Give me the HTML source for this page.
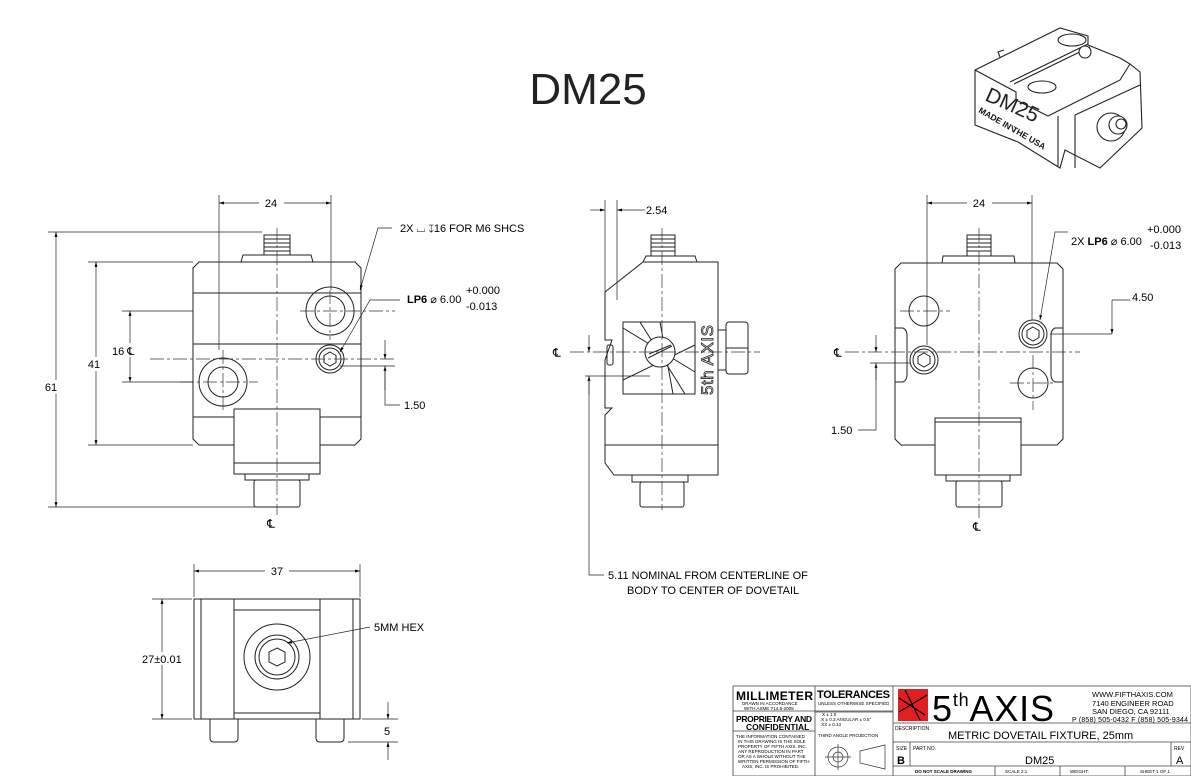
<!DOCTYPE html>
<html><head><meta charset="utf-8"><style>
html,body{margin:0;padding:0;background:#fff;}
svg{display:block;font-family:"Liberation Sans",sans-serif;}
</style></head><body>
<svg width="1191" height="776" viewBox="0 0 1191 776" xmlns="http://www.w3.org/2000/svg">
<defs>
<marker id="a" viewBox="0 0 10 10" refX="10" refY="5" markerWidth="7" markerHeight="7" orient="auto-start-reverse"><path d="M0,2 L10,5 L0,8z" fill="#000"/></marker>
</defs>
<rect width="1191" height="776" fill="#fff"/>
<text x="588" y="104" font-size="44" text-anchor="middle" fill="#222">DM25</text>

<!-- ISO view -->
<g stroke="#222" stroke-width="1.1" fill="#fff">
<path d="M975,70 L1060,28 L1088,36 L1088,45 L1120,58 L1130,64 L1140,72 L1142,128 L1100,168 L1065,150 L1060,168 L1018,142 L975,125 Z"/>
<path d="M975,70 L1016,92 L1016,100 L1048,116 L1088,96 L1120,80 L1130,64" fill="none"/>
<path d="M1010,82 L1088,44 M1014,84 L1090,47" fill="none"/>
<path d="M1058,116 L1058,166 M1075,115 L1075,168 M1075,115 L1140,85" fill="none"/>
<ellipse cx="1072" cy="40" rx="14" ry="6"/>
<ellipse cx="1042" cy="87" rx="14" ry="6"/>
<circle cx="1085" cy="52" r="6"/>
<circle cx="1111" cy="127" r="14"/><circle cx="1118" cy="125" r="9"/><circle cx="1121" cy="124" r="5"/>
<path d="M1000,57 L998,52 L1004,50 M1012,125 L1013,132"/>
</g>
<text x="984" y="100" font-size="21" transform="rotate(24 984 100)" fill="#222">DM25</text>
<text x="978" y="112" font-size="8.5" font-weight="bold" transform="rotate(30 978 112)" fill="#111">MADE IN THE USA</text>

<g stroke="#222" stroke-width="1" fill="none">
<!-- FRONT VIEW -->
<path d="M199,262 L355,262 L361,268 L361,439 L355,445 L199,445 L193,439 L193,268 Z"/>
<path d="M193,293 H361 M193,344 H361 M193,417 H234 M320,417 H361"/>
<path d="M241,262 L243,255 L311,255 L313,262"/>
<rect x="264" y="235" width="26" height="20"/>
<path d="M264,239 H290 M264,243 H290 M264,247 H290 M264,251 H290"/>
<rect x="234" y="409" width="86" height="65" fill="#fff"/>
<path d="M234,463 H320"/>
<rect x="245" y="474" width="64" height="6"/>
<rect x="254" y="480" width="46" height="27" rx="2"/>
<circle cx="330" cy="311" r="24"/><circle cx="330" cy="311" r="15"/>
<circle cx="223" cy="382" r="24"/><circle cx="223" cy="382" r="15"/>
<circle cx="330" cy="359" r="14"/><circle cx="330" cy="359" r="11"/>
<path d="M330,352 L336,355.5 L336,362.5 L330,366 L324,362.5 L324,355.5 Z"/>
</g>
<g stroke="#333" stroke-width="0.7" fill="none" stroke-dasharray="14,3,3,3">
<path d="M277,228 V515 M300,311 H395 M180,382 H258 M223,350 V410 M330,290 V340 M150,359 H395"/>
</g>
<g stroke="#222" stroke-width="0.7" fill="none">
<path d="M219,195 V350 M331,195 V290"/>
<path d="M219,203 H331" marker-start="url(#a)" marker-end="url(#a)"/>
<path d="M48,232 H262 M48,507 H255"/>
<path d="M56,232 V507" marker-start="url(#a)" marker-end="url(#a)"/>
<path d="M88,262 H193 M88,445 H193"/>
<path d="M96,262 V445" marker-start="url(#a)" marker-end="url(#a)"/>
<path d="M122,311 H193 M122,382 H193"/>
<path d="M130,311 V382" marker-start="url(#a)" marker-end="url(#a)"/>
<path d="M360,290 L378,228 H392" marker-start="url(#a)"/>
<path d="M340,352 L370,300 H400" marker-start="url(#a)"/>
<path d="M340,366 H395 M385,340 V359" marker-end="url(#a)"/>
<path d="M385,390 V366" marker-end="url(#a)"/>
<path d="M385,366 V405 H400"/>
</g>
<rect x="259" y="197" width="25" height="12" fill="#fff"/>
<text x="271" y="207" font-size="11" text-anchor="middle">24</text>
<rect x="40" y="380" width="22" height="14" fill="#fff"/>
<text x="51" y="391" font-size="11" text-anchor="middle">61</text>
<rect x="84" y="357" width="22" height="14" fill="#fff"/>
<text x="94" y="368" font-size="11" text-anchor="middle">41</text>
<rect x="112" y="343" width="44" height="14" fill="#fff"/>
<text x="112" y="355" font-size="11">16 ℄</text>
<text x="400" y="232" font-size="11">2X ⌴ ↧16 FOR M6 SHCS</text>
<text x="407" y="303" font-size="11"><tspan font-weight="bold">LP6</tspan> ⌀ 6.00</text>
<text x="466" y="294" font-size="11">+0.000</text>
<text x="466" y="310" font-size="11">-0.013</text>
<text x="404" y="409" font-size="11">1.50</text>
<text x="271" y="528" font-size="12" text-anchor="middle">℄</text>

<!-- SIDE VIEW -->
<g stroke="#222" stroke-width="1" fill="none">
<path d="M643,262 L718,262 L718,445 L605,445 L605,415 L612,408 L605,408 L605,360 L612,340 L605,340 L605,292 Z"/>
<path d="M643,262 L646,256 L695,256 L697,262"/>
<rect x="651" y="235" width="24" height="21"/>
<path d="M651,239 H675 M651,243 H675 M651,247 H675 M651,251 H675"/>
<path d="M605,445 L605,463 L614,475 L718,475 L718,445"/>
<rect x="632" y="475" width="56" height="7"/>
<rect x="640" y="482" width="44" height="25" rx="2"/>
<rect x="623" y="322" width="72" height="72"/>
<path d="M623,328 L695,372 M640,322 L685,394 M623,380 L695,345 M660,322 L673,394"/>
<circle cx="660" cy="352" r="15" fill="#fff"/><path d="M648,358 L672,346 M649,354 L671,345"/>
<rect x="726" y="322" width="22" height="52" rx="3"/>
<path d="M718,330 H726 V370 H718 M726,348 H748"/>
<rect x="607" y="345" width="6" height="20" rx="2"/>
</g>
<text x="713" y="395" font-size="17" transform="rotate(-90 713 395)" fill="#fff" stroke="#222" stroke-width="0.8" textLength="70">5th AXIS</text>
<g stroke="#333" stroke-width="0.7" fill="none" stroke-dasharray="14,3,3,3">
<path d="M570,352 H760 M662,228 V510"/>
</g>
<g stroke="#222" stroke-width="0.7" fill="none">
<path d="M605,200 V292 M617,200 V300"/>
<path d="M590,210 H605" marker-end="url(#a)"/>
<path d="M640,210 H617" marker-end="url(#a)"/>
<path d="M640,210 H645"/>
<path d="M585,376 H650"/>
<path d="M589,335 V352" marker-end="url(#a)"/>
<path d="M589,395 V376" marker-end="url(#a)"/>
<path d="M589,376 V575 H604"/>
</g>
<text x="646" y="214" font-size="11">2.54</text>
<text x="553" y="357" font-size="12">℄</text>
<text x="608" y="579" font-size="11">5.11 NOMINAL FROM CENTERLINE OF</text>
<text x="627" y="594" font-size="11">BODY TO CENTER OF DOVETAIL</text>

<!-- RIGHT VIEW -->
<g stroke="#222" stroke-width="1" fill="none">
<path d="M901,263 L1057,263 L1063,269 L1063,439 L1057,445 L901,445 L895,439 L895,269 Z"/>
<path d="M942,263 L943,256 L1014,256 L1015,263"/>
<rect x="967" y="235" width="24" height="21"/>
<path d="M967,239 H991 M967,243 H991 M967,247 H991 M967,251 H991"/>
<path d="M895,328 L903,328 Q907,330 907,335 L907,375 Q907,380 903,382 L895,382"/>
<path d="M1063,328 L1055,328 Q1051,330 1051,335 L1051,375 Q1051,380 1055,382 L1063,382"/>
<rect x="935" y="418" width="86" height="57" fill="#fff"/>
<path d="M935,422 H1021"/>
<rect x="946" y="475" width="64" height="6"/>
<rect x="956" y="481" width="46" height="26" rx="2"/>
<circle cx="924" cy="311" r="15"/>
<circle cx="924" cy="360" r="14"/><circle cx="924" cy="360" r="11"/>
<path d="M924,353 L930,356.5 L930,363.5 L924,367 L918,363.5 L918,356.5 Z"/>
<circle cx="1033" cy="334" r="14"/><circle cx="1033" cy="334" r="11"/>
<path d="M1033,327 L1039,330.5 L1039,337.5 L1033,341 L1027,337.5 L1027,330.5 Z"/>
<circle cx="1033" cy="383" r="15"/>
</g>
<g stroke="#333" stroke-width="0.7" fill="none" stroke-dasharray="14,3,3,3">
<path d="M979,228 V520 M845,352 H1080 M900,311 H950 M1010,383 H1055 M1033,355 V410"/>
</g>
<g stroke="#222" stroke-width="0.7" fill="none">
<path d="M927,195 V345 M1032,195 V320"/>
<path d="M927,203 H1032" marker-start="url(#a)" marker-end="url(#a)"/>
<path d="M1040,320 L1055,232 H1068" marker-start="url(#a)"/>
<path d="M1050,334 H1112 M1112,300 H1130"/>
<path d="M1112,300 V334" marker-end="url(#a)"/>
<path d="M870,363 H910"/>
<path d="M876,335 V352" marker-end="url(#a)"/>
<path d="M876,380 V363" marker-end="url(#a)"/>
<path d="M876,363 V430 H858"/>
</g>
<rect x="967" y="197" width="25" height="12" fill="#fff"/>
<text x="979" y="207" font-size="11" text-anchor="middle">24</text>
<text x="1071" y="245" font-size="11">2X <tspan font-weight="bold">LP6</tspan> ⌀ 6.00</text>
<text x="1147" y="233" font-size="11">+0.000</text>
<text x="1150" y="249" font-size="11">-0.013</text>
<text x="1132" y="301" font-size="11">4.50</text>
<text x="831" y="434" font-size="11">1.50</text>
<text x="834" y="357" font-size="12">℄</text>
<text x="973" y="531" font-size="12">℄</text>

<!-- BOTTOM VIEW -->
<g stroke="#222" stroke-width="1" fill="none">
<rect x="194" y="599" width="166" height="120"/>
<path d="M201,599 V719 M353,599 V719"/>
<rect x="234" y="599" width="86" height="120"/>
<path d="M234,610 H320 M234,713 H320"/>
<circle cx="277" cy="657" r="33"/><circle cx="277" cy="657" r="22"/><circle cx="277" cy="657" r="18"/>
<path d="M277,648 L285,652 L285,662 L277,666 L269,662 L269,652 Z"/>
<path d="M210,719 V738 Q210,742 214,742 H234 Q238,742 238,738 V719"/>
<path d="M316,719 V738 Q316,742 320,742 H340 Q344,742 344,738 V719"/>
</g>
<g stroke="#222" stroke-width="0.7" fill="none">
<path d="M194,564 V597 M360,564 V597"/>
<path d="M194,571 H360" marker-start="url(#a)" marker-end="url(#a)"/>
<path d="M152,599 H192 M152,719 H192"/>
<path d="M162,599 V719" marker-start="url(#a)" marker-end="url(#a)"/>
<path d="M287,643 L370,627" marker-start="url(#a)"/>
<path d="M362,719 H398 M348,742 H398"/>
<path d="M388,702 V719" marker-end="url(#a)"/>
<path d="M388,760 V742" marker-end="url(#a)"/>
</g>
<rect x="265" y="565" width="24" height="12" fill="#fff"/>
<text x="277" y="575" font-size="11" text-anchor="middle">37</text>
<rect x="140" y="652" width="50" height="13" fill="#fff"/>
<text x="142" y="663" font-size="11">27±0.01</text>
<text x="374" y="631" font-size="11">5MM HEX</text>
<text x="384" y="735" font-size="11">5</text>

<!-- TITLE BLOCK -->
<g stroke="#444" stroke-width="0.8" fill="none">
<rect x="733" y="686" width="458" height="90"/>
<path d="M815,686 V776 M893,686 V776 M733,711 H893 M733,731 H815 M815,712 H893 M893,723 H1191 M893,742 H1191 M893,766 H1191 M910,742 V766 M1171,742 V766 M995,766 V776 M1060,766 V776 M1125,766 V776"/>
</g>
<rect x="898" y="689" width="30" height="32" fill="#e02020"/>
<path d="M899,712 L927,695 M905,690 L920,720 M899,698 L925,715" stroke="#000" stroke-width="1.2"/>
<text x="736" y="700" font-size="12" font-weight="bold" textLength="77">MILLIMETER</text>
<text x="817" y="698" font-size="11" font-weight="bold" textLength="73">TOLERANCES</text>
<text x="818" y="705" font-size="4.5">UNLESS OTHERWISE SPECIFIED</text>
<text x="742" y="705" font-size="4.5">DRAWN IN ACCORDANCE</text>
<text x="744" y="710" font-size="4.5">WITH ASME Y14.5-2009</text>
<text x="736" y="722" font-size="8.5" font-weight="bold" textLength="76">PROPRIETARY AND</text>
<text x="746" y="730" font-size="8.5" font-weight="bold">CONFIDENTIAL</text>
<text x="736" y="738" font-size="4.5">THE INFORMATION CONTAINED</text>
<text x="738" y="743" font-size="4.5">IN THIS DRAWING IS THE SOLE</text>
<text x="738" y="748" font-size="4.5">PROPERTY OF FIFTH AXIS, INC.</text>
<text x="738" y="753" font-size="4.5">ANY REPRODUCTION IN PART</text>
<text x="738" y="758" font-size="4.5">OR AS A WHOLE WITHOUT THE</text>
<text x="738" y="763" font-size="4.5">WRITTEN PERMISSION OF FIFTH</text>
<text x="742" y="768" font-size="4.5">AXIS, INC. IS PROHIBITED.</text>
<text x="822" y="716" font-size="4.5">X ± 1.0</text>
<text x="820" y="721" font-size="4.5">.X ± 0.3   ANGULAR ± 0.5°</text>
<text x="820" y="726" font-size="4.5">.XX ± 0.13</text>
<text x="818" y="737" font-size="4.5">THIRD ANGLE PROJECTION</text>
<g stroke="#333" stroke-width="0.7" fill="none"><circle cx="838" cy="757" r="10"/><circle cx="838" cy="757" r="5"/><path d="M825,757 H851 M838,744 V770 M860,751 L885,745 V769 L860,763 Z"/></g>
<text x="932" y="721" font-size="36" textLength="122">5<tspan font-size="18" dy="-15">th</tspan><tspan dy="15">AXIS</tspan></text>
<text x="1092" y="697" font-size="7.5">WWW.FIFTHAXIS.COM</text>
<text x="1092" y="706" font-size="7.5">7140 ENGINEER ROAD</text>
<text x="1092" y="714" font-size="7.5">SAN DIEGO, CA 92111</text>
<text x="1072" y="722" font-size="7" textLength="116">P (858) 505-0432 F (858) 505-9344</text>
<text x="895" y="730" font-size="5">DESCRIPTION</text>
<text x="948" y="739" font-size="11">METRIC DOVETAIL FIXTURE, 25mm</text>
<text x="896" y="750" font-size="5">SIZE</text>
<text x="897" y="764" font-size="11" font-weight="bold">B</text>
<text x="913" y="750" font-size="5">PART NO.</text>
<text x="1025" y="764" font-size="11">DM25</text>
<text x="1174" y="750" font-size="5">REV</text>
<text x="1176" y="764" font-size="11">A</text>
<text x="915" y="773" font-size="4.5" font-weight="bold">DO NOT SCALE DRAWING</text>
<text x="1005" y="773" font-size="4.5">SCALE 2:1</text>
<text x="1070" y="773" font-size="4.5">WEIGHT:</text>
<text x="1140" y="773" font-size="4.5">SHEET 1 OF 1</text>
</svg>
</body></html>
